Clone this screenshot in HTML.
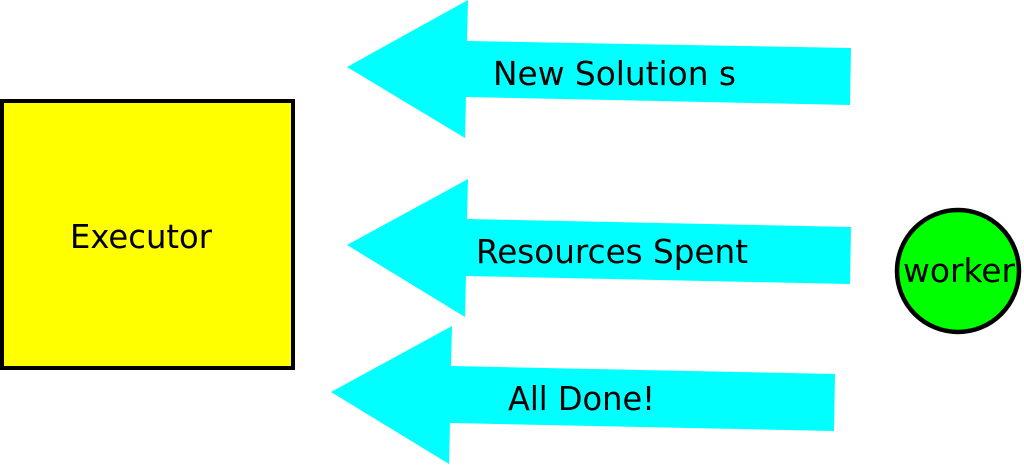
<!DOCTYPE html>
<html><head><style>
html,body{margin:0;padding:0;background:#fff;width:1024px;height:465px;overflow:hidden}
svg text{font-family:"DejaVu Sans","Liberation Sans",sans-serif;font-size:32.5px;fill:#000}
</style></head><body>
<svg width="1024" height="465" viewBox="0 0 1024 465">
<rect x="2" y="101" width="291" height="267" fill="#ffff00" stroke="#000" stroke-width="4"/>
<text x="70" y="248" textLength="142" lengthAdjust="spacingAndGlyphs">Executor</text>
<polygon fill="#00ffff" points="347,67 468,0 467,41 851,48 850,105 466,97 465,138"/>
<text x="493" y="85" textLength="243" lengthAdjust="spacingAndGlyphs">New Solution s</text>
<polygon fill="#00ffff" points="347,245 468,179 467,219 851,227 850,284 466,276 465,317"/>
<text x="476" y="263" textLength="272" lengthAdjust="spacingAndGlyphs">Resources Spent</text>
<polygon fill="#00ffff" points="331,392 452,326 451,366 835,374 834,431 450,423 449,464"/>
<text x="508" y="410" textLength="147" lengthAdjust="spacingAndGlyphs">All Done!</text>
<circle cx="958" cy="271" r="61" fill="#00ff00" stroke="#000" stroke-width="4.5"/>
<text x="903" y="282" textLength="112" lengthAdjust="spacingAndGlyphs">worker</text>
</svg>
</body></html>
